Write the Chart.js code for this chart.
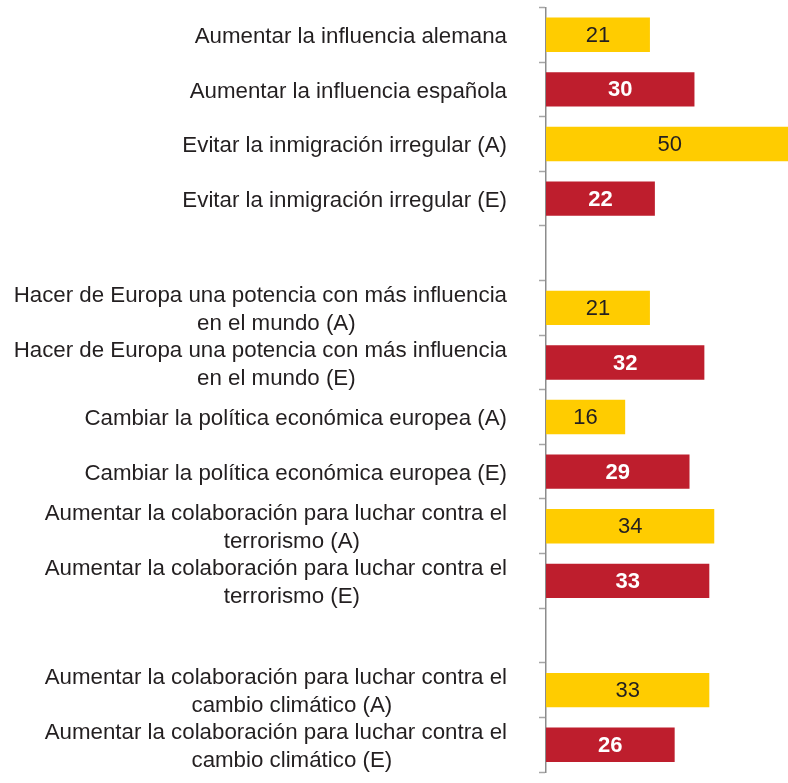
<!DOCTYPE html>
<html>
<head>
<meta charset="utf-8">
<script src="https://cdn.jsdelivr.net/npm/chart.js@4/dist/chart.umd.min.js"></script>
<style>
  html, body { margin: 0; padding: 0; background: #fff; }
  #wrap { width: 788px; height: 783px; }
</style>
</head>
<body>
<div id="wrap"><canvas id="myChart"></canvas></div>
<script>
"use strict";
const ctx = document.getElementById('myChart');

const yellow = 'rgb(255, 204, 0)';
const red = 'rgb(190, 30, 45)';
const textColor = '#231f20';
const fontFamily = '"Liberation Sans", Arial, sans-serif';

// categories (empty strings are the gaps between groups)
const categories = [
  'Aumentar la influencia alemana',
  'Aumentar la influencia española',
  'Evitar la inmigración irregular (A)',
  'Evitar la inmigración irregular (E)',
  '',
  ['Hacer de Europa una potencia con más influencia', 'en el mundo (A)'],
  ['Hacer de Europa una potencia con más influencia', 'en el mundo (E)'],
  'Cambiar la política económica europea (A)',
  'Cambiar la política económica europea (E)',
  ['Aumentar la colaboración para luchar contra el', 'terrorismo (A)'],
  ['Aumentar la colaboración para luchar contra el', 'terrorismo (E)'],
  '',
  ['Aumentar la colaboración para luchar contra el', 'cambio climático (A)'],
  ['Aumentar la colaboración para luchar contra el', 'cambio climático (E)']
];
const yellowValues = [21, null, 50, null, null, 21, null, 16, null, 34, null, null, 33, null];
const redValues = [null, 30, null, 22, null, null, 32, null, 29, null, 33, null, null, 26];

// draws the category labels: block right aligned, lines centered (like the original)
const categoryLabels = {
  id: 'categoryLabels',
  afterDraw(chart) {
    const yScale = chart.scales.y;
    const c = chart.ctx;
    c.save();
    c.font = '22.3px ' + fontFamily;
    c.fillStyle = textColor;
    c.textAlign = 'center';
    c.textBaseline = 'middle';
    categories.forEach((label, i) => {
      const lines = Array.isArray(label) ? label : [label];
      const widest = Math.max(...lines.map(l => c.measureText(l).width));
      const center = 507 - widest / 2;
      const y = yScale.getPixelForTick(i) + 2;
      lines.forEach((line, j) => {
        const x = center + (j > 0 ? 16 : 0);
        c.fillText(line, x, y + (j - (lines.length - 1) / 2) * 28);
      });
    });
    c.restore();
  }
};

// value labels in the middle of each bar
const valueLabels = {
  id: 'valueLabels',
  afterDatasetsDraw(chart) {
    const c = chart.ctx;
    c.save();
    c.textAlign = 'center';
    c.textBaseline = 'middle';
    chart.data.datasets.forEach((ds, d) => {
      const meta = chart.getDatasetMeta(d);
      meta.data.forEach((bar, i) => {
        const value = ds.data[i];
        if (value === null) return;
        if (d === 0) {
          c.font = '22px ' + fontFamily;
          c.fillStyle = textColor;
        } else {
          c.font = 'bold 22px ' + fontFamily;
          c.fillStyle = '#fff';
        }
        c.fillText(String(value), (bar.x + bar.base) / 2, bar.y + 1);
      });
    });
    c.restore();
  }
};

let myChart = new Chart(ctx, {
  type: 'bar',
  plugins: [categoryLabels, valueLabels],
  data: {
    labels: categories,
    datasets: [{
      label: 'A',
      data: yellowValues,
      backgroundColor: yellow,
      barPercentage: 0.63,
      categoryPercentage: 1
    },
    {
      label: 'E',
      data: redValues,
      backgroundColor: red,
      barPercentage: 0.63,
      categoryPercentage: 1
    }]
  },
  options: {
    indexAxis: 'y',
    responsive: true,
    maintainAspectRatio: false,
    animation: false,
    layout: {
      padding: { top: 7.5, bottom: 11, left: 0, right: 0 }
    },
    plugins: {
      legend: { display: false },
      tooltip: { enabled: false }
    },
    scales: {
      x: {
        display: false,
        stacked: true,
        min: 0,
        max: 48.9
      },
      y: {
        stacked: true,
        afterFit(scale) {
          scale.width = 546;
        },
        ticks: { display: false },
        grid: {
          drawOnChartArea: false,
          drawTicks: true,
          tickLength: 7,
          tickWidth: 1.5,
          tickColor: '#a6a6a6',
          offset: true
        },
        border: {
          display: true,
          color: '#8c8c8c',
          width: 1.5
        }
      }
    }
  }
});
</script>
</body>
</html>
